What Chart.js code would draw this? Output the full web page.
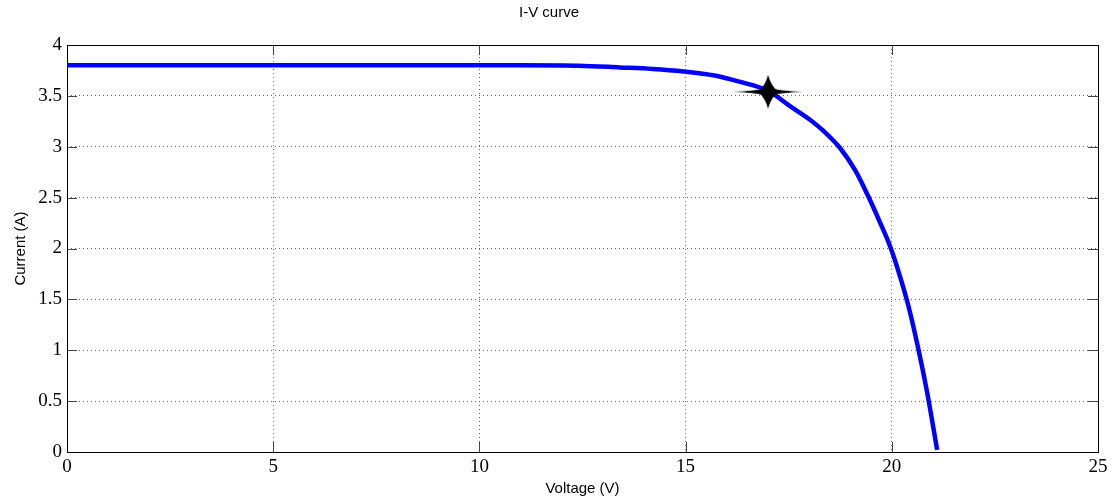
<!DOCTYPE html>
<html>
<head>
<meta charset="utf-8">
<title>I-V curve</title>
<script src="https://cdn.jsdelivr.net/npm/chart.js@4.4.1/dist/chart.umd.min.js"></script>
<style>
  html, body { margin: 0; padding: 0; background: #fff; }
  #wrap { width: 1117px; height: 501px; }
</style>
</head>
<body>
<div id="wrap"><canvas id="ivChart" width="1117" height="501"></canvas></div>
<script>

/**
 * Data
 */
const voltage = [0, 4, 8, 10, 11, 12, 12.4, 13.4, 14.2, 14.95, 15.7, 16.3, 17.0, 17.53, 18.0, 18.33, 18.74, 19.11, 19.42, 19.71, 19.96, 20.15, 20.4, 20.64, 20.85, 21.1];
const current = [3.8, 3.8, 3.8, 3.8, 3.8, 3.799, 3.797, 3.78, 3.765, 3.74, 3.70, 3.64, 3.55, 3.40, 3.27, 3.16, 2.99, 2.77, 2.52, 2.26, 2.02, 1.79, 1.44, 1.02, 0.60, 0.02];

// maximum power point
const mppVoltage = [17.0];
const mppCurrent = [3.54];

const X_MIN = 0, X_MAX = 25, X_STEP = 5;
const Y_MIN = 0, Y_MAX = 4, Y_STEP = 0.5;

//
// Star marker, drawn once on a small canvas
function makeStar() {
  let c = document.createElement('canvas');
  c.width = 70;
  c.height = 34;
  let ctx = c.getContext('2d');
  ctx.fillStyle = '#000';
  ctx.beginPath();
  ctx.moveTo(0, 17);
  ctx.quadraticCurveTo(24, 16, 28, 14);
  ctx.quadraticCurveTo(33, 8, 35, 0);
  ctx.quadraticCurveTo(37, 8, 42, 14);
  ctx.quadraticCurveTo(46, 16, 70, 17);
  ctx.quadraticCurveTo(46, 18, 42, 20);
  ctx.quadraticCurveTo(37, 26, 35, 34);
  ctx.quadraticCurveTo(33, 26, 28, 20);
  ctx.quadraticCurveTo(24, 18, 0, 17);
  ctx.closePath();
  ctx.fill();
  return c;
}

//
// Box round the plot with inward tick marks (matlab style)
const boxPlugin = {
  id: 'box',
  beforeDatasetsDraw(chart) {
    const {ctx, chartArea: a, scales} = chart;
    const len = 10;
    ctx.save();
    ctx.strokeStyle = '#444';
    ctx.lineWidth = 1;
    ctx.beginPath();
    scales.x.ticks.forEach(t => {
      let px = Math.round(scales.x.getPixelForValue(t.value)) + 0.5;
      ctx.moveTo(px, a.bottom); ctx.lineTo(px, a.bottom - len);
      ctx.moveTo(px, a.top); ctx.lineTo(px, a.top + len);
    });
    scales.y.ticks.forEach(t => {
      let py = Math.round(scales.y.getPixelForValue(t.value)) + 0.5;
      ctx.moveTo(a.left, py); ctx.lineTo(a.left + len, py);
      ctx.moveTo(a.right, py); ctx.lineTo(a.right - len, py);
    });
    ctx.stroke();
    ctx.strokeStyle = '#000';
    ctx.strokeRect(Math.round(a.left) + 0.5, Math.round(a.top) + 0.5,
      Math.round(a.right - a.left), Math.round(a.bottom - a.top));
    ctx.restore();
  }
};

const points = voltage.map((v, i) => ({x: v, y: current[i]}));
const mpp = mppVoltage.map((v, i) => ({x: v, y: mppCurrent[i]}));

const tickFont = {family: '"Liberation Serif", "Times New Roman", serif', size: 19};
const labelFont = {family: '"Liberation Sans", Arial, sans-serif', size: 15};
const gridStyle = {
  color: '#666',
  lineWidth: 1,
  drawTicks: false
};

new Chart(document.getElementById('ivChart').getContext('2d'), {
  type: 'line',
  data: {
    datasets: [{
      data: mpp,
      showLine: false,
      pointStyle: makeStar(),
      pointRadius: 10,
      order: 0
    }, {
      data: points,
      borderColor: '#0000ff',
      borderWidth: 4.5,
      pointRadius: 0,
      fill: false,
      cubicInterpolationMode: 'monotone',
      order: 1
    }]
  },
  options: {
    responsive: false,
    animation: false,
    layout: {padding: {left: 0, right: 19, top: 0, bottom: 0}},
    plugins: {
      legend: {display: false},
      tooltip: {enabled: false},
      title: {
        display: true,
        text: 'I-V curve',
        color: '#000',
        font: {family: labelFont.family, size: 15, weight: 'normal'},
        padding: {top: 4, bottom: 23}
      }
    },
    scales: {
      x: {
        type: 'linear',
        min: X_MIN,
        max: X_MAX,
        grid: gridStyle,
        border: {display: false, dash: [1, 3]},
        ticks: {stepSize: X_STEP, color: '#000', font: tickFont, padding: 4, maxRotation: 0},
        title: {display: true, text: 'Voltage (V)', color: '#000', font: labelFont, padding: {top: 0, bottom: 3}},
        afterFit(scale) { scale.height = 49; }
      },
      y: {
        type: 'linear',
        min: Y_MIN,
        max: Y_MAX,
        grid: gridStyle,
        border: {display: false, dash: [1, 3]},
        ticks: {
          stepSize: Y_STEP,
          color: '#000',
          font: tickFont,
          padding: 5,
          callback: value => String(value)
        },
        title: {display: true, text: 'Current (A)', color: '#000', font: labelFont, padding: {top: 12, bottom: 0}},
        afterFit(scale) { scale.width = 67; }
      }
    }
  },
  plugins: [boxPlugin]
});
</script>
</body>
</html>
